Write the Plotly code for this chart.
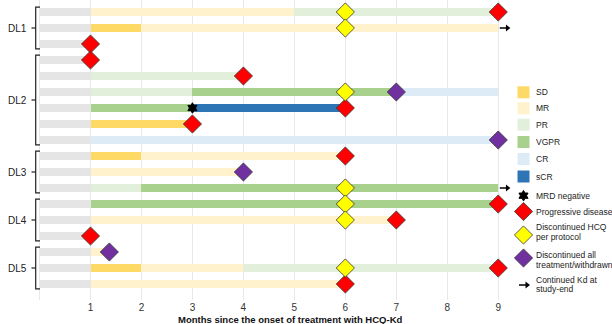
import plotly.graph_objects as go

# ---------------- data ----------------
n_rows = 18
rows = list(range(1, n_rows + 1))

# response segments: (row, start month, end month)
seg_SD   = [(2, 1, 2), (8, 1, 3), (10, 1, 2), (17, 1, 2)]
seg_MR   = [(1, 1, 5), (2, 2, 9), (10, 2, 6), (11, 1, 4), (14, 1, 7),
            (16, 1, 1.37), (17, 2, 4), (18, 1, 6)]
seg_PR   = [(1, 5, 9), (5, 1, 4), (6, 1, 3), (12, 1, 2), (17, 4, 9)]
seg_VGPR = [(6, 3, 7), (7, 1, 3), (12, 2, 9), (13, 1, 9)]
seg_CR   = [(6, 7, 9), (9, 1, 9)]
seg_sCR  = [(7, 3, 6)]

# events: (month, row)
ev_MRD = [(3, 7)]
ev_PD = [(9, 1), (1, 3), (1, 4), (4, 5), (6, 7), (3, 8), (6, 10), (9, 13),
         (7, 14), (1, 15), (9, 17), (6, 18)]
ev_HCQ = [(6, 1), (6, 2), (6, 6), (6, 12), (6, 13), (6, 14), (6, 17)]
ev_ALL = [(7, 6), (9, 9), (4, 11), (1.37, 16)]
ev_KD = [(9, 2), (9, 12)]

# dose level groups: (label, first row, last row)
groups = [("DL1", 1, 3), ("DL2", 4, 9), ("DL3", 10, 12), ("DL4", 13, 15), ("DL5", 16, 18)]

x_ticks = [0, 1, 2, 3, 4, 5, 6, 7, 8, 9]
x_ticktext = ["", "1", "2", "3", "4", "5", "6", "7", "8", "9"]
x_title = "Months since the onset of treatment with HCQ-Kd"

resp_names = ["SD", "MR", "PR", "VGPR", "CR", "sCR"]
event_names = ["MRD negative", "Progressive disease", "Discontinued HCQ<br>per protocol",
               "Discontinued all<br>treatment/withdrawn", "Continued Kd at<br>study-end"]

# ---------------- styles ----------------
colors = {"SD": "#FFD966", "MR": "#FFF2CC", "PR": "#E2EFDA",
          "VGPR": "#A9D18E", "CR": "#DDEBF7", "sCR": "#2E75B6"}
FONT = "Liberation Sans, Arial, sans-serif"
W, H = 612, 324
ML, MB = 38, 24
PLOT_W = W - ML          # plotting area width (margin r = 0)
MAIN_W = 474             # width of the main chart in px


def px(x):
    """pixel x -> paper fraction"""
    return (x - ML) / PLOT_W


fig = go.Figure()

# gray pre-treatment baseline 0-1
fig.add_trace(go.Bar(y=rows, base=[0] * n_rows, x=[1] * n_rows, orientation="h",
                     marker=dict(color="#E5E5E5", line=dict(width=0)), width=0.5,
                     hoverinfo="skip"))

for name, segs in zip(resp_names, [seg_SD, seg_MR, seg_PR, seg_VGPR, seg_CR, seg_sCR]):
    fig.add_trace(go.Bar(
        y=[s[0] for s in segs], base=[s[1] for s in segs],
        x=[s[2] - s[1] for s in segs], orientation="h", width=0.5,
        marker=dict(color=colors[name], line=dict(width=0)), name=name))

MRD_MARKER = dict(symbol="hexagram", size=8, color="black", line=dict(width=1, color="black"))
fig.add_trace(go.Scatter(x=[e[0] for e in ev_MRD], y=[e[1] for e in ev_MRD],
                         mode="markers", name="MRD negative", marker=MRD_MARKER,
                         cliponaxis=False))


def dmarker(color):
    return dict(symbol="diamond", size=14, color=color, line=dict(width=0.8, color="#333333"))


diamond_sets = [(ev_PD, "#FF0000"), (ev_HCQ, "#FFFF00"), (ev_ALL, "#7030A0")]
for ev, color in diamond_sets:
    fig.add_trace(go.Scatter(x=[e[0] for e in ev], y=[e[1] for e in ev],
                             mode="markers", cliponaxis=False, marker=dmarker(color)))

# arrows for continued Kd
ax, ay = [], []
for m, r in ev_KD:
    ax += [m + 0.03, m + 0.17, None]
    ay += [r, r, None]
fig.add_trace(go.Scatter(x=ax, y=ay, mode="lines", line=dict(color="black", width=1.5),
                         cliponaxis=False, hoverinfo="skip"))
fig.add_trace(go.Scatter(x=[m + 0.18 for m, r in ev_KD], y=[r for m, r in ev_KD],
                         mode="markers", cliponaxis=False,
                         marker=dict(symbol="triangle-right", size=6, color="black")))

# brackets and group labels
for label, r0, r1 in groups:
    top, bot = r0 - 0.3, r1 + 0.3
    mid = (r0 + r1) / 2
    fig.add_shape(type="path", xref="paper", yref="y",
                  path=f"M {px(40)} {top} L {px(35.7)} {top} L {px(35.7)} {bot} L {px(40)} {bot}",
                  line=dict(color="#222222", width=1.2))
    fig.add_shape(type="line", xref="paper", yref="y", x0=px(35.7), x1=px(31.5),
                  y0=mid, y1=mid, line=dict(color="#222222", width=1.2))
    fig.add_annotation(x=px(29), y=mid, xref="paper", yref="y", text=label,
                       showarrow=False, xanchor="right", yanchor="middle",
                       font=dict(family=FONT, size=10, color="#222222"))

fig.add_annotation(x=px(290), y=-19 / 300, xref="paper", yref="paper",
                   text=f"<b>{x_title}</b>",
                   showarrow=False, xanchor="center", yanchor="middle",
                   font=dict(family=FONT, size=9.5, color="#111111"))

# ---------------- custom legend (pixel-coordinate axes x2/y2) ----------------
LEG_X = 523.5
TXT_X = 534
sw_y = [92.3, 108.3, 124.7, 142, 159, 176.5]
for name, y in zip(resp_names, sw_y):
    fig.add_trace(go.Scatter(x=[LEG_X], y=[y], xaxis="x2", yaxis="y2", mode="markers",
                             marker=dict(symbol="square", size=12, color=colors[name],
                                         line=dict(width=0))))
    fig.add_annotation(x=TXT_X, y=y, xref="x2", yref="y2", text=name, showarrow=False,
                       xanchor="left", yanchor="middle",
                       font=dict(family=FONT, size=8.5, color="#222222"))

ev_mark_y = [195.7, 211.5, 235, 258, 285]
ev_text_y = [195.7, 211.5, 231.7, 259.7, 284.5]
ev_markers = [MRD_MARKER, dmarker("#FF0000"), dmarker("#FFFF00"), dmarker("#7030A0")]
for mk, y in zip(ev_markers, ev_mark_y[:4]):
    fig.add_trace(go.Scatter(x=[LEG_X], y=[y], xaxis="x2", yaxis="y2", mode="markers",
                             marker=mk))
# legend arrow
fig.add_trace(go.Scatter(x=[519, 526], y=[ev_mark_y[4]] * 2, xaxis="x2", yaxis="y2",
                         mode="lines", line=dict(color="black", width=1.5)))
fig.add_trace(go.Scatter(x=[527], y=[ev_mark_y[4]], xaxis="x2", yaxis="y2", mode="markers",
                         marker=dict(symbol="triangle-right", size=6, color="black")))

for name, y in zip(event_names, ev_text_y):
    lines = name.split("<br>")
    n = len(lines)
    for i, ln in enumerate(lines):
        fig.add_annotation(x=TXT_X, y=y + (i - (n - 1) / 2) * 9.6, xref="x2", yref="y2",
                           text=ln, showarrow=False, xanchor="left", yanchor="middle",
                           font=dict(family=FONT, size=8.5, color="#222222"))

fig.update_layout(
    width=W, height=H,
    margin=dict(l=ML, r=0, t=0, b=MB),
    plot_bgcolor="white", paper_bgcolor="white",
    barmode="overlay", bargap=0, showlegend=False,
    font=dict(family=FONT, size=9, color="#222222"),
    xaxis=dict(domain=[0, MAIN_W / PLOT_W], range=[-0.03, 9.27], tickvals=x_ticks,
               ticktext=x_ticktext, showgrid=True, gridcolor="#E8E8E8", gridwidth=1,
               zeroline=False, showline=False, ticks="",
               tickfont=dict(family=FONT, size=10, color="#333333")),
    yaxis=dict(range=[19, 0.25], showticklabels=False, showgrid=False,
               zeroline=False, showline=False, ticks=""),
    xaxis2=dict(domain=[MAIN_W / PLOT_W, 1], range=[ML + MAIN_W, W], visible=False,
                anchor="y2"),
    yaxis2=dict(domain=[0, 1], range=[H - MB, 0], visible=False, anchor="x2"),
)

fig.write_html("out.html")
